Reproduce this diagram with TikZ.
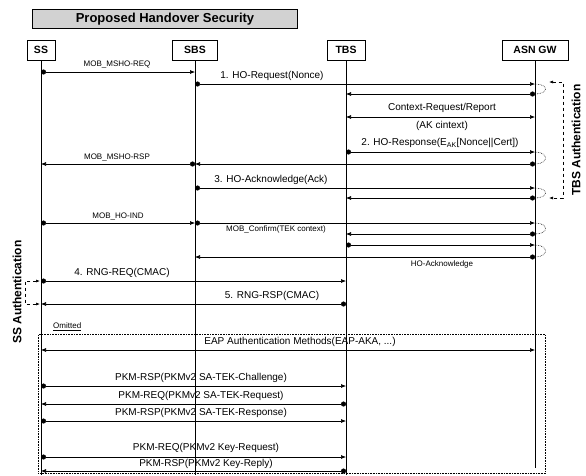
\documentclass[tikz,border=0pt]{standalone}
\usepackage{fontspec}
\setmainfont{Liberation Sans}
\usetikzlibrary{arrows.meta}
\tikzstyle{entity} = [rectangle, minimum height=20pt, inner sep=2pt, text centered, draw=black, line width=0.7pt, font=\fontsize{10.5}{12}\selectfont\bfseries]
\tikzstyle{lifeline} = [line width=0.8pt]
\tikzstyle{arrow} = [line width=0.6pt, {Circle[length=5pt]}-{Latex[length=5pt,width=4pt]}]
\tikzstyle{both} = [line width=0.6pt, {Latex[length=5pt,width=4pt]}-{Latex[length=5pt,width=4pt]}]
\tikzstyle{turn} = [densely dotted, line width=0.6pt]
\tikzstyle{bracket} = [dashed, line width=0.6pt, {Latex[length=4pt,width=3pt]}-{Latex[length=4pt,width=3pt]}]
\tikzstyle{big} = [font=\fontsize{10}{11}\selectfont, inner sep=1pt]
\tikzstyle{small} = [font=\fontsize{8}{9}\selectfont, inner sep=1pt]
\tikzstyle{side} = [rotate=90, font=\fontsize{12}{14}\selectfont\bfseries]
\begin{document}
\begin{tikzpicture}[x=1pt, y=-1pt]
\useasboundingbox (0,0) rectangle (586,475);

\node (title)[draw=black, fill=gray!35, minimum width=265pt, minimum height=18pt, font=\fontsize{13}{14}\selectfont\bfseries] at (165,19) {Proposed Handover Security};

\node (ss)[entity, minimum width=28pt] at (41,50) {SS};
\node (sbs)[entity, minimum width=45pt] at (195,50) {SBS};
\node (tbs)[entity, minimum width=38pt] at (346,50) {TBS};
\node (asn)[entity, minimum width=66pt] at (535,50) {ASN GW};

\coordinate (bottom) at (0,475);
\coordinate (asnbottom) at (0,468);
\draw [lifeline](ss) -- (ss |- bottom);
\draw [lifeline](sbs) -- (sbs |- bottom);
\draw [lifeline](tbs) -- (tbs |- bottom);
\draw [lifeline](asn) -- (asn |- asnbottom);

\coordinate (r1) at (0,72);
\coordinate (r2) at (0,84);
\coordinate (r3) at (0,94);
\coordinate (r4) at (0,117);
\coordinate (r5) at (0,152);
\coordinate (r6) at (0,164);
\coordinate (r7) at (0,188);
\coordinate (r8) at (0,198);
\coordinate (r9) at (0,223);
\coordinate (r10) at (0,234);
\coordinate (r11) at (0,245);
\coordinate (r12) at (0,257);
\coordinate (r13) at (0,281);
\coordinate (r14) at (0,304);
\coordinate (r15) at (0,350);
\coordinate (r16) at (0,386);
\coordinate (r17) at (0,404);
\coordinate (r18) at (0,421);
\coordinate (r19) at (0,457);
\coordinate (r20) at (0,471);

\draw [arrow](ss |- r1) -- (sbs |- r1);
\node (mshoreq)[small] at (117,64) {MOB\_MSHO-REQ};
\draw [arrow](sbs |- r2) -- (asn |- r2);
\node (horeq)[big] at (272,76) {1. HO-Request(Nonce)};
\draw [arrow](asn |- r3) -- (tbs |- r3);
\draw [turn](asn |- r2) .. controls +(14,0) and +(14,0) .. (asn |- r3);

\draw [both](tbs |- r4) -- (asn |- r4);
\node (ctxreq)[big] at (442,108) {Context-Request/Report};
\node (akctx)[big] at (442,126) {(AK cintext)};

\draw [arrow](tbs |- r5) -- (asn |- r5);
\node (horsp)[big] at (440,143) {2. HO-Response(E\textsubscript{AK}[Nonce||Cert])};
\draw [arrow](asn |- r6) -- (sbs |- r6);
\draw [turn](asn |- r5) .. controls +(14,0) and +(14,0) .. (asn |- r6);
\draw [arrow](sbs |- r6) -- (ss |- r6);
\node (mshorsp)[small] at (117,157) {MOB\_MSHO-RSP};

\draw [arrow](sbs |- r7) -- (asn |- r7);
\node (hoack)[big] at (271,180) {3. HO-Acknowledge(Ack)};
\draw [arrow](asn |- r8) -- (tbs |- r8);
\draw [turn](asn |- r7) .. controls +(14,0) and +(14,0) .. (asn |- r8);

\draw [arrow](ss |- r9) -- (sbs |- r9);
\node (hoind)[small] at (118,216) {MOB\_HO-IND};
\draw [arrow](sbs |- r9) -- (asn |- r9);
\node (confirm)[small] at (276,229) {MOB\_Confirm(TEK context)};
\draw [arrow](asn |- r10) -- (tbs |- r10);
\draw [turn](asn |- r9) .. controls +(14,0) and +(14,0) .. (asn |- r10);
\draw [arrow](tbs |- r11) -- (asn |- r11);
\draw [arrow](asn |- r12) -- (sbs |- r12);
\draw [turn](asn |- r11) .. controls +(14,0) and +(14,0) .. (asn |- r12);
\node (hoacktwo)[small] at (442,264) {HO-Acknowledge};

\draw [arrow](ss |- r13) -- (tbs |- r13);
\node (rngreq)[big] at (122,273) {4. RNG-REQ(CMAC)};
\draw [arrow](tbs |- r14) -- (ss |- r14);
\node (rngrsp)[big] at (272,296) {5. RNG-RSP(CMAC)};

\coordinate (tbtop) at (563,82);
\coordinate (tbtopend) at (549,82);
\coordinate (tbbot) at (563,198);
\coordinate (tbbotend) at (549,198);
\draw [bracket](tbtopend) -- (tbtop) -- (tbbot) -- (tbbotend);
\node (tbsauth)[side] at (576,140) {TBS Authentication};

\coordinate (sstop) at (25,281);
\coordinate (sstopend) at (40,281);
\coordinate (ssbot) at (25,304);
\coordinate (ssbotend) at (40,304);
\draw [bracket](sstopend) -- (sstop) -- (ssbot) -- (ssbotend);
\node (ssauth)[side] at (17,292) {SS Authentication};

\node (omitbox)[draw=black, densely dotted, line width=0.6pt, minimum width=507pt, minimum height=139pt, anchor=north west] at (38,334) {};
\node (omitted)[small, anchor=south west] at (52,332) {\underline{Omitted}};

\draw [both](ss |- r15) -- (asn |- r15);
\node (eap)[big] at (300,342) {EAP Authentication Methods(EAP-AKA, ...)};

\draw [arrow](ss |- r16) -- (tbs |- r16);
\node (challenge)[big] at (201,378) {PKM-RSP(PKMv2 SA-TEK-Challenge)};
\draw [arrow](tbs |- r17) -- (ss |- r17);
\node (request)[big] at (201,396) {PKM-REQ(PKMv2 SA-TEK-Request)};
\draw [arrow](ss |- r18) -- (tbs |- r18);
\node (response)[big] at (201,413) {PKM-RSP(PKMv2 SA-TEK-Response)};

\draw [arrow](ss |- r19) -- (tbs |- r19);
\node (keyreq)[big] at (206,448) {PKM-REQ(PKMv2 Key-Request)};
\draw [arrow](tbs |- r20) -- (ss |- r20);
\node (keyrep)[big] at (206,464) {PKM-RSP(PKMv2 Key-Reply)};
\end{tikzpicture}
\end{document}
